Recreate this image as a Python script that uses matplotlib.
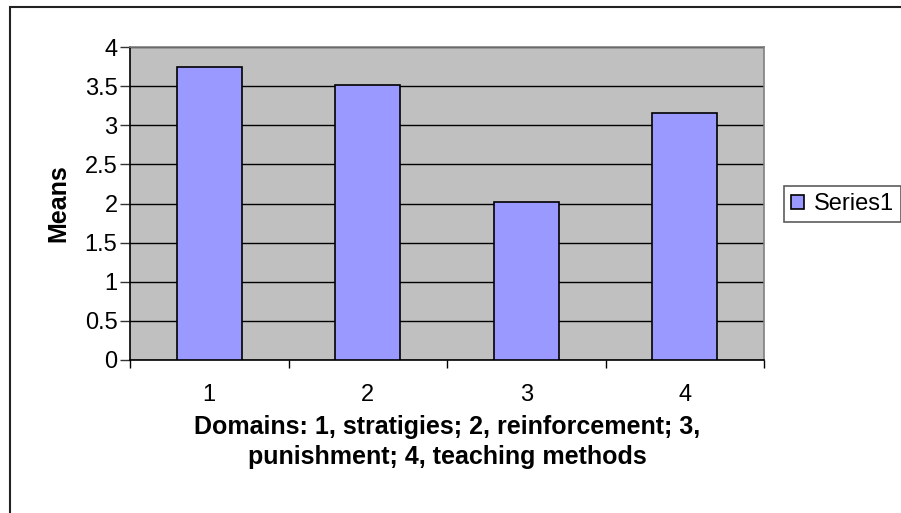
import matplotlib.pyplot as plt
from matplotlib.patches import Rectangle

plt.rcParams['font.family'] = ['Liberation Sans', 'DejaVu Sans']

# data
domains = ['1', '2', '3', '4']
means = [3.75, 3.51, 2.02, 3.16]
series_name = 'Series1'

fig = plt.figure(figsize=(9.01, 5.13), dpi=100)
fig.patch.set_facecolor('white')

# outer chart border (cut off at right and bottom in the original)
fig.add_artist(Rectangle((10 / 901, -0.1), 1.2, 1 - 7 / 513 + 0.1, transform=fig.transFigure,
                         fill=False, edgecolor='#222222', linewidth=1.5))

ax = fig.add_axes([130 / 901, 1 - 360 / 513, 634 / 901, 313 / 513])
ax.set_facecolor('#c0c0c0')

x = list(range(len(domains)))
ax.bar(x, means, width=0.41, color='#9999ff', edgecolor='black', linewidth=1.2,
       label=series_name, zorder=3)

ax.set_xlim(-0.5, len(domains) - 0.5)
ax.set_ylim(0, 4)
ax.set_yticks([0, 0.5, 1, 1.5, 2, 2.5, 3, 3.5, 4])
ax.set_yticklabels(['0', '0.5', '1', '1.5', '2', '2.5', '3', '3.5', '4'])
ax.yaxis.grid(True, color='black', linewidth=1, zorder=0)
ax.set_axisbelow(True)

ax.set_xticks(x)
ax.set_xticklabels(domains)
ax.set_xticks([i + 0.5 for i in range(-1, len(domains))], minor=True)
ax.tick_params(axis='x', which='major', length=0, labelsize=17, pad=17)
ax.tick_params(axis='x', which='minor', length=6, width=1, color='black', direction='out')
ax.tick_params(axis='y', length=7, width=1, color='#333333', labelsize=17, pad=2)

for side in ['top', 'right']:
    ax.spines[side].set_color('#808080')
    ax.spines[side].set_linewidth(1.2)
for side in ['left', 'bottom']:
    ax.spines[side].set_color('black')
    ax.spines[side].set_linewidth(1.2)

ax.set_ylabel('Means', fontsize=18, fontweight='bold', labelpad=10)
ax.set_xlabel('Domains: 1, stratigies; 2, reinforcement; 3,\npunishment; 4, teaching methods',
              fontsize=18, fontweight='bold', labelpad=7, linespacing=1.3)

leg = ax.legend(loc='center left', bbox_to_anchor=(784 / 901, 1 - 204 / 513),
                bbox_transform=fig.transFigure, fontsize=17, frameon=True, fancybox=False,
                handlelength=0.55, handleheight=0.55, handletextpad=0.4, borderpad=0.3,
                borderaxespad=0)
leg.get_frame().set_edgecolor('#333333')
leg.get_frame().set_linewidth(1.2)

plt.savefig('out.png', dpi=100)
